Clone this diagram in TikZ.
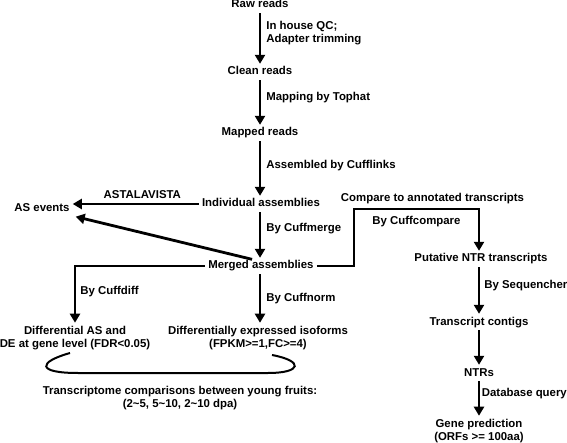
\documentclass[tikz,border=0pt]{standalone}
\usepackage{fontspec}
\setmainfont{Liberation Sans}
\usetikzlibrary{arrows.meta, positioning}

\tikzset{
    stage/.style={inner sep=1pt, text height=8pt, text depth=2pt},
    stagetwo/.style={inner sep=1pt, align=center},
    via/.style={inner sep=0pt, align=left},
    flow/.style={line width=2.8pt, -{Triangle[width=10pt,length=9pt]}, shorten <=2pt, shorten >=2pt},
    bowl/.style={line width=2pt},
}

\begin{document}
\begin{tikzpicture}[x=1pt, y=-1pt, every node/.style={font=\fontsize{11.4}{13.5}\selectfont\bfseries}]
            \useasboundingbox (0,0) rectangle (567,443);
            % main column
            \node[stage] (raw) at (260,5) {Raw reads};
            \node[stage] (clean) at (260,72) {Clean reads};
            \node[stage] (mapped) at (260,133) {Mapped reads};
            \node[stage] (indiv) at (261,204) {Individual assemblies};
            \node[stage] (merged) at (261,266) {Merged assemblies};
            \node[stage] (asev) at (42,209) {AS events};
            \node[stagetwo] (diffas) at (75,338) {Differential AS and\\DE at gene level (FDR<0.05)};
            \node[stagetwo] (isoforms) at (258,338) {Differentially expressed isoforms\\(FPKM>=1,FC>=4)};
            \node[stagetwo] (comp) at (180,398) {Transcriptome comparisons between young fruits:\\(2\textasciitilde5, 5\textasciitilde10, 2\textasciitilde10 dpa)};
            % right column
            \node[stage] (putative) at (481,259) {Putative NTR transcripts};
            \node[stage] (contigs) at (479,322) {Transcript contigs};
            \node[stage] (ntrs) at (479,373) {NTRs};
            \node[stagetwo] (gene) at (479,431) {Gene prediction\\(ORFs >= 100aa)};
            \coordinate (bend) at (354,209);
            \coordinate (bowlL) at (70,353);
            \coordinate (bowlR) at (272,355);

            \draw[flow] (raw) -- node[via, right=5pt, pos=0.4] {In house QC;\\Adapter trimming} (clean);
            \draw[flow] (clean) -- node[via, right=5pt, pos=0.4] {Mapping by Tophat} (mapped);
            \draw[flow] (mapped) -- node[via, right=5pt, pos=0.45] {Assembled by Cufflinks} (mapped |- indiv.north);
            \draw[flow] (mapped |- indiv.south) -- node[via, right=5pt, pos=0.37] {By Cuffmerge} (mapped |- merged.north);
            \draw[flow] (indiv.west) -- node[via, above=4pt, pos=0.45] {ASTALAVISTA} (indiv.west -| asev.east);
            \draw[flow] ([xshift=-7pt]merged.north) -- ([xshift=3pt,yshift=-1pt]asev.south east);
            \draw[flow] (merged.west) -| node[via, right=4pt, pos=0.72] {By Cuffdiff} (diffas.north);
            \draw[flow] (mapped |- merged.south) -- node[via, right=5pt, pos=0.5] {By Cuffnorm} (mapped |- isoforms.north);
            \draw[flow] (merged.east) -| (bend) -| node[via, below=6pt, pos=0.25] {By Cuffcompare}
                node[via, above=4pt, pos=0.25, xshift=16pt] {Compare to annotated transcripts} (contigs |- putative.north);
            \draw[flow] (contigs |- putative.south) -- node[via, right=4pt, pos=0.4] {By Sequencher} (contigs);
            \draw[flow] (contigs) -- (ntrs);
            \draw[flow] (ntrs) -- node[via, right=1.5pt, pos=0.36] {Database query} (gene);
            \draw[bowl] (bowlL) .. controls (38,362) and (36,373) .. (78,373)
                -- (268,373) .. controls (302,373) and (304,361) .. (bowlR);
        \end{tikzpicture}
\end{document}
